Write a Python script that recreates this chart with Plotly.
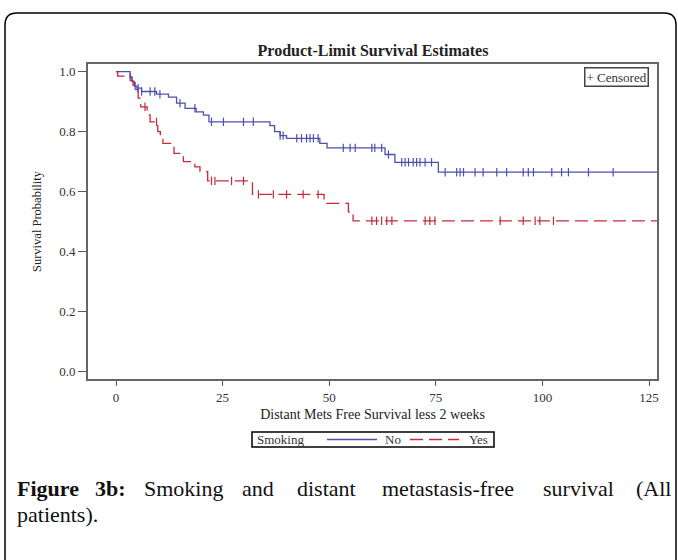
import numpy as np
import plotly.graph_objects as go

# ---------------- data ----------------
no_time = [0, 3.3, 3.8, 4.3, 4.9, 6.0, 9.5, 12.3, 14.2, 16.2, 18.8, 20.5, 21.8,
           36.1, 37.2, 38.5, 40.0, 47.8, 49.5, 63.1, 65.4, 75.6, 127]
no_surv = [1.0, 0.982, 0.967, 0.952, 0.945, 0.934, 0.925, 0.915, 0.895, 0.878, 0.866, 0.855, 0.833,
           0.82, 0.80, 0.787, 0.778, 0.761, 0.746, 0.724, 0.698, 0.665, 0.665]
no_censor = [3.3, 4.5, 5.2, 6.0, 8.0, 9.1, 10.3, 15.0, 18.5, 22.4, 25.2, 29.9, 32.2,
             38.5, 39.2, 42.4, 43.5, 44.7, 45.5, 46.3, 47.4, 53.3, 54.9, 56.1, 60.0, 60.7,
             62.3, 63.9, 67.0, 67.8, 68.6, 69.7, 70.5, 71.3, 72.5, 74.0, 77.2, 79.9, 80.7,
             81.5, 84.2, 86.1, 89.3, 91.6, 95.5, 96.7, 97.9, 102.2, 104.5, 106.1, 110.8, 116.6]

yes_time = [0, 0.4, 3.5, 4.0, 4.5, 5.2, 5.8, 7.3, 8.0, 9.8, 10.4, 11.0, 13.6, 15.8,
            18.5, 19.7, 21.5, 32.0, 48.8, 54.5, 55.6, 127]
yes_surv = [1.0, 0.985, 0.97, 0.955, 0.94, 0.912, 0.883, 0.856, 0.833, 0.80, 0.78, 0.761, 0.728, 0.70,
            0.683, 0.667, 0.636, 0.591, 0.561, 0.533, 0.503, 0.503]
yes_censor = [6.8, 9.5, 22.4, 23.2, 27.1, 29.9, 33.4, 36.9, 40.0, 43.9, 47.4,
              60.0, 61.1, 62.3, 63.5, 64.7, 72.5, 73.6, 74.8, 90.1, 95.5, 98.3, 99.4, 102.6]

x_ticks = [0, 25, 50, 75, 100, 125]
y_ticks = [0.0, 0.2, 0.4, 0.6, 0.8, 1.0]

BLUE = "#4f4fb0"
RED = "#c8283c"
FONT = "Liberation Serif"
DASH = "13px,6px"


def step_value(times, surv, t):
    i = int(np.searchsorted(np.asarray(times), t, side="right")) - 1
    return surv[max(i, 0)]


fig = go.Figure()
fig.add_trace(go.Scatter(x=no_time, y=no_surv, mode="lines", line_shape="hv",
                         name="No", line=dict(color=BLUE, width=1.3)))
fig.add_trace(go.Scatter(x=yes_time, y=yes_surv, mode="lines", line_shape="hv",
                         name="Yes", line=dict(color=RED, width=1.3, dash=DASH)))
fig.add_trace(go.Scatter(x=no_censor, y=[step_value(no_time, no_surv, t) for t in no_censor],
                         mode="markers", name="Censored (No)",
                         marker=dict(symbol="line-ns", size=6, line=dict(color=BLUE, width=1.2))))
fig.add_trace(go.Scatter(x=yes_censor, y=[step_value(yes_time, yes_surv, t) for t in yes_censor],
                         mode="markers", name="Censored (Yes)",
                         marker=dict(symbol="line-ns", size=6, line=dict(color=RED, width=1.2))))

# plot area in window pixels: x 88..657, y 64..379
L, R, T, B = 88, 657, 64, 379
W, H = R - L, B - T


def PX(px):
    return (px - L) / W


def PY(py):
    return (B - py) / H


fig.update_layout(
    width=678, height=560,
    margin=dict(l=L, r=678 - R, t=T, b=560 - B, autoexpand=False),
    paper_bgcolor="white", plot_bgcolor="white",
    font=dict(family=FONT, size=13, color="#333"),
    title=dict(text="<b>Product-Limit Survival Estimates</b>", x=PX(373), xref="paper",
               xanchor="center", y=1 - 50 / 560, yref="container", yanchor="middle",
               font=dict(family=FONT, size=16, color="#222")),
    showlegend=False,
)

fig.update_xaxes(range=[-(116 - L) / 4.264, (R - 116) / 4.264], tickvals=x_ticks,
                 ticks="outside", ticklen=5, tickwidth=1.3, tickcolor="#555",
                 showline=True, linecolor="#666", linewidth=2, mirror=True,
                 showgrid=False, zeroline=False,
                 tickfont=dict(size=13, color="#333"),
                 title=dict(text="Distant Mets Free Survival less 2 weeks", standoff=6,
                            font=dict(size=14, color="#222")))
fig.update_yaxes(range=[-(B - 371.7) / 300, (371.7 - T) / 300], tickvals=y_ticks, tickformat=".1f",
                 ticks="outside", ticklen=8, tickwidth=1.3, tickcolor="#555",
                 showline=True, linecolor="#666", linewidth=2, mirror=True,
                 showgrid=False, zeroline=False,
                 tickfont=dict(size=13, color="#333"),
                 title=dict(text="Survival Probability", standoff=15,
                            font=dict(size=12.5, color="#222")))

# "+ Censored" key
fig.add_annotation(x=PX(616), y=PY(76.7), xref="paper", yref="paper", showarrow=False,
                   xanchor="center", yanchor="middle",
                   text="+ Censored", font=dict(size=13, color="#333"),
                   bordercolor="#444", borderwidth=1.5, borderpad=1, bgcolor="white")

# bottom legend (Smoking: No / Yes)
fig.add_shape(type="rect", xref="paper", yref="paper", x0=PX(252), x1=PX(494), y0=PY(432), y1=PY(447),
              line=dict(color="black", width=1.5), fillcolor="white")
ly = PY(439.5)
fig.add_shape(type="line", xref="paper", yref="paper", x0=PX(327), x1=PX(377), y0=ly, y1=ly,
              line=dict(color=BLUE, width=1.3))
fig.add_shape(type="line", xref="paper", yref="paper", x0=PX(410), x1=PX(459), y0=ly, y1=ly,
              line=dict(color=RED, width=1.3, dash=DASH))
for txt, x0 in [("Smoking", 255), ("No", 383), ("Yes", 467)]:
    fig.add_annotation(x=PX(x0), y=ly, xref="paper", yref="paper", showarrow=False,
                       xanchor="left", yanchor="middle", text=txt,
                       font=dict(size=13, color="#333"))

# outer rounded frame
path = (f"M{PX(5)},{PY(575)} L{PX(5)},{PY(25)} Q{PX(5)},{PY(13)} {PX(17)},{PY(13)} "
        f"L{PX(664)},{PY(13)} Q{PX(676)},{PY(13)} {PX(676)},{PY(25)} L{PX(676)},{PY(575)}")
fig.add_shape(type="path", path=path, xref="paper", yref="paper",
              line=dict(color="black", width=1.5))

# caption (justified words)
cap_font = dict(family=FONT, size=22, color="#111")
words = [("<b>Figure</b>", 15), ("<b>3b:</b>", 93), ("Smoking", 141.7), ("and", 240),
         ("distant", 295), ("metastasis-free", 380), ("survival", 540.7), ("(All", 634)]
for w, x0 in words:
    fig.add_annotation(x=PX(x0), y=PY(488), xref="paper", yref="paper", showarrow=False,
                       xanchor="left", yanchor="middle", text=w, font=cap_font)
fig.add_annotation(x=PX(15), y=PY(514), xref="paper", yref="paper", showarrow=False,
                   xanchor="left", yanchor="middle", text="patients).", font=cap_font)

fig.write_html("out.html", config={"displayModeBar": False},
               post_script="document.body.style.margin='0px';")
